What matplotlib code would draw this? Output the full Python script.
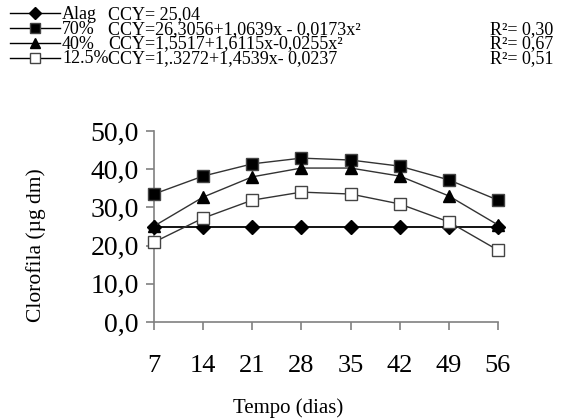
import matplotlib
matplotlib.use("Agg")
import matplotlib.pyplot as plt
from matplotlib.lines import Line2D

plt.rcParams['font.family'] = ['Liberation Serif', 'DejaVu Serif']

# tempo (dias)
dias = [7, 14, 21, 28, 35, 42, 49, 56]
# clorofila por tratamento
alag = [25.0, 25.0, 25.0, 25.0, 25.0, 25.0, 25.0, 25.0]
p70 = [33.5, 38.2, 41.4, 42.9, 42.4, 40.8, 37.2, 31.9]
p40 = [25.1, 32.7, 38.0, 40.3, 40.3, 38.2, 33.0, 25.4]
p125 = [20.9, 27.2, 31.9, 34.0, 33.5, 30.9, 26.2, 18.8]

labels = ["Alag", "70%", "40%", "12.5%"]
equacoes = ["CCY= 25,04",
            "CCY=26,3056+1,0639x - 0,0173x²",
            "CCY=1,5517+1,6115x-0,0255x²",
            "CCY=1,.3272+1,4539x- 0,0237"]
r2 = ["", "R²= 0,30", "R²= 0,67", "R²= 0,51"]
yticks = [0, 10, 20, 30, 40, 50]

W, H = 582, 420
fig = plt.figure(figsize=(W / 100, H / 100), dpi=100)
ax = fig.add_axes([154 / W, 1 - 322 / H, (498 - 154) / W, (322 - 131) / H])

estilos = [
    (alag, dict(marker="D", color="black", mfc="black", ms=7.5, lw=1.3)),
    (p70, dict(marker="s", color="#333333", mfc="black", mec="#444444", ms=8.5, lw=1)),
    (p40, dict(marker="^", color="#333333", mfc="black", mec="black", ms=9, lw=1)),
    (p125, dict(marker="s", color="#333333", mfc="white", mec="#444444", ms=8.5, lw=1)),
]
for serie, st in estilos:
    ax.plot(dias, serie, clip_on=False, zorder=3, **st)

ax.set_xlim(7, 56)
ax.set_ylim(0, 50)
ax.set_xticks(dias)
ax.set_yticks(yticks)
ax.set_yticklabels([f"{v:.1f}".replace(".", ",") for v in yticks])
for s in ["top", "right"]:
    ax.spines[s].set_visible(False)
for s in ["left", "bottom"]:
    ax.spines[s].set_color("#808080")
    ax.spines[s].set_linewidth(1.2)
ax.tick_params(axis="both", direction="out", length=6, width=1.2, color="#808080")
ax.tick_params(axis="x", pad=18, labelsize=19)
ax.tick_params(axis="y", pad=5, labelsize=20)
ax.set_xlabel("Tempo (dias)", fontsize=15)
ax.set_ylabel("Clorofila (µg dm)", fontsize=15.5)
ax.xaxis.set_label_coords(0.39, -0.40)
ax.yaxis.set_label_coords(-0.315, 0.40)

# legenda manual no topo: simbolos + tres colunas de texto
ys = [13, 28, 43, 58]
for i, (serie, st) in enumerate(estilos):
    y = 1 - ys[i] / H
    fig.add_artist(Line2D([10 / W, 60 / W], [y, y], transform=fig.transFigure,
                          color="black", lw=1))
    mk = {k: v for k, v in st.items() if k != "lw"}
    mk["ms"] = mk["ms"] * 0.85
    fig.add_artist(Line2D([35 / W], [y], transform=fig.transFigure, ls="none", **mk))

topo = 1 - 6 / H
kw = dict(fontsize=13, va="top", ha="left", linespacing=0.83)
fig.text(62 / W, topo, "\n".join(labels), **kw)
fig.text(108 / W, topo, "\n".join(equacoes), **kw)
fig.text(490 / W, topo, "\n".join(r2), **kw)

fig.savefig("out.png", dpi=100)
